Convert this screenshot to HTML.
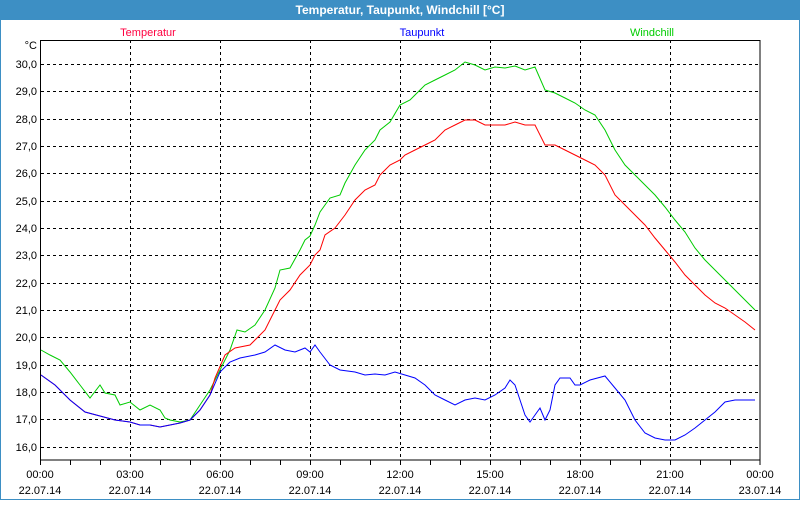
<!DOCTYPE html>
<html><head><meta charset="utf-8"><style>
body{margin:0;width:800px;height:500px;overflow:hidden;background:#fff;font-family:"Liberation Sans",sans-serif}
</style></head><body>
<svg width="800" height="500" xmlns="http://www.w3.org/2000/svg" font-family="Liberation Sans, sans-serif" font-size="11">
<rect x="0" y="0" width="800" height="500" fill="#fff"/>
<rect x="0.5" y="0.5" width="799" height="499" fill="none" stroke="#3d8fc4"/>
<rect x="0" y="0" width="800" height="20" fill="#3d8fc4"/>
<text x="400" y="14" text-anchor="middle" fill="#fff" font-weight="bold" font-size="12">Temperatur, Taupunkt, Windchill [°C]</text>
<text x="148" y="36" text-anchor="middle" fill="#ff0040">Temperatur</text>
<text x="422" y="36" text-anchor="middle" fill="#0000ff">Taupunkt</text>
<text x="652" y="36" text-anchor="middle" fill="#00cc00">Windchill</text>
<g stroke="#000" stroke-dasharray="3,3" stroke-width="1">
<line x1="130.5" y1="40" x2="130.5" y2="460"/><line x1="220.5" y1="40" x2="220.5" y2="460"/><line x1="310.5" y1="40" x2="310.5" y2="460"/><line x1="400.5" y1="40" x2="400.5" y2="460"/><line x1="490.5" y1="40" x2="490.5" y2="460"/><line x1="580.5" y1="40" x2="580.5" y2="460"/><line x1="670.5" y1="40" x2="670.5" y2="460"/>
<line x1="41" y1="64.5" x2="760" y2="64.5"/><line x1="41" y1="91.5" x2="760" y2="91.5"/><line x1="41" y1="119.5" x2="760" y2="119.5"/><line x1="41" y1="146.5" x2="760" y2="146.5"/><line x1="41" y1="173.5" x2="760" y2="173.5"/><line x1="41" y1="201.5" x2="760" y2="201.5"/><line x1="41" y1="228.5" x2="760" y2="228.5"/><line x1="41" y1="255.5" x2="760" y2="255.5"/><line x1="41" y1="283.5" x2="760" y2="283.5"/><line x1="41" y1="310.5" x2="760" y2="310.5"/><line x1="41" y1="337.5" x2="760" y2="337.5"/><line x1="41" y1="365.5" x2="760" y2="365.5"/><line x1="41" y1="392.5" x2="760" y2="392.5"/><line x1="41" y1="419.5" x2="760" y2="419.5"/><line x1="41" y1="447.5" x2="760" y2="447.5"/>
</g>
<rect x="40.5" y="40.5" width="719.5" height="419.5" fill="none" stroke="#000"/>
<g stroke="#000"><line x1="40.5" y1="460" x2="40.5" y2="465"/><line x1="70.5" y1="460" x2="70.5" y2="465"/><line x1="100.5" y1="460" x2="100.5" y2="465"/><line x1="130.5" y1="460" x2="130.5" y2="465"/><line x1="160.5" y1="460" x2="160.5" y2="465"/><line x1="190.5" y1="460" x2="190.5" y2="465"/><line x1="220.5" y1="460" x2="220.5" y2="465"/><line x1="250.5" y1="460" x2="250.5" y2="465"/><line x1="280.5" y1="460" x2="280.5" y2="465"/><line x1="310.5" y1="460" x2="310.5" y2="465"/><line x1="340.5" y1="460" x2="340.5" y2="465"/><line x1="370.5" y1="460" x2="370.5" y2="465"/><line x1="400.5" y1="460" x2="400.5" y2="465"/><line x1="430.5" y1="460" x2="430.5" y2="465"/><line x1="460.5" y1="460" x2="460.5" y2="465"/><line x1="490.5" y1="460" x2="490.5" y2="465"/><line x1="520.5" y1="460" x2="520.5" y2="465"/><line x1="550.5" y1="460" x2="550.5" y2="465"/><line x1="580.5" y1="460" x2="580.5" y2="465"/><line x1="610.5" y1="460" x2="610.5" y2="465"/><line x1="640.5" y1="460" x2="640.5" y2="465"/><line x1="670.5" y1="460" x2="670.5" y2="465"/><line x1="700.5" y1="460" x2="700.5" y2="465"/><line x1="730.5" y1="460" x2="730.5" y2="465"/><line x1="760" y1="460" x2="760" y2="465"/></g>
<g text-anchor="end" fill="#000">
<text x="37" y="49">°C</text>
<text x="37" y="68">30,0</text><text x="37" y="95">29,0</text><text x="37" y="123">28,0</text><text x="37" y="150">27,0</text><text x="37" y="177">26,0</text><text x="37" y="205">25,0</text><text x="37" y="232">24,0</text><text x="37" y="259">23,0</text><text x="37" y="287">22,0</text><text x="37" y="314">21,0</text><text x="37" y="341">20,0</text><text x="37" y="369">19,0</text><text x="37" y="396">18,0</text><text x="37" y="423">17,0</text><text x="37" y="451">16,0</text>
</g>
<g text-anchor="middle" fill="#000">
<text x="40" y="478">00:00</text><text x="40" y="494">22.07.14</text>
<text x="130" y="478">03:00</text><text x="130" y="494">22.07.14</text>
<text x="220" y="478">06:00</text><text x="220" y="494">22.07.14</text>
<text x="310" y="478">09:00</text><text x="310" y="494">22.07.14</text>
<text x="400" y="478">12:00</text><text x="400" y="494">22.07.14</text>
<text x="490" y="478">15:00</text><text x="490" y="494">22.07.14</text>
<text x="580" y="478">18:00</text><text x="580" y="494">22.07.14</text>
<text x="670" y="478">21:00</text><text x="670" y="494">22.07.14</text>
<text x="760" y="478">00:00</text><text x="760" y="494">23.07.14</text>
</g>
<polyline fill="none" stroke="#00cc00" points="41,350 50,355 60,360 70,372 80,385 90,398 100,385 105,393 115,395 120,405 130,402 140,410 150,405 160,410 165,418 170,420 180,422 190,420 200,405 210,390 220,370 230,350 237,330 245,332 255,325 265,310 275,288 280,270 290,268 300,250 305,240 310,236 315,225 320,212 325,205 330,198 340,195 345,183 355,165 365,150 375,140 380,130 390,122 400,105 410,100 415,95 425,85 435,80 445,75 455,70 465,62 475,65 485,70 495,67 505,68 515,66 525,70 535,67 545,90 555,93 565,98 575,103 585,110 595,115 605,130 615,150 625,165 635,175 645,185 655,195 665,207 675,220 685,232 695,248 705,260 715,270 725,280 735,290 745,300 755,310"/>
<polyline fill="none" stroke="#ff0000" points="41,375 55,385 70,400 85,412 100,416 115,420 130,422 140,425 150,425 160,427 170,425 180,423 190,420 200,410 210,395 215,378 225,355 235,348 250,345 265,330 280,300 290,290 300,275 310,265 315,255 320,250 325,235 335,228 345,215 355,200 365,190 375,185 380,175 390,165 400,160 405,155 415,150 425,145 435,140 445,130 455,125 465,120 475,120 485,125 495,125 505,125 515,122 525,125 535,125 545,145 555,145 565,150 575,155 585,160 595,165 605,175 615,195 625,205 635,215 645,225 655,238 665,250 675,262 685,275 695,285 705,295 715,303 725,308 735,315 745,322 755,330"/>
<polyline fill="none" stroke="#0000ff" points="41,375 55,385 70,400 85,412 100,416 115,420 130,422 140,425 150,425 160,427 170,425 180,423 190,420 200,410 210,395 220,372 230,362 240,358 255,355 265,352 275,345 285,350 295,352 305,348 310,352 315,345 320,352 330,365 340,370 355,372 365,375 375,374 385,375 395,372 405,375 415,378 425,385 435,395 445,400 455,405 465,400 475,398 485,400 495,395 505,388 510,380 515,385 520,400 525,415 530,422 535,415 540,408 545,420 550,410 555,385 560,378 570,378 575,385 580,385 590,380 605,376 615,388 625,400 635,420 645,433 655,438 665,440 675,440 685,435 695,428 705,420 715,412 725,402 735,400 755,400"/>
</svg>
</body></html>
